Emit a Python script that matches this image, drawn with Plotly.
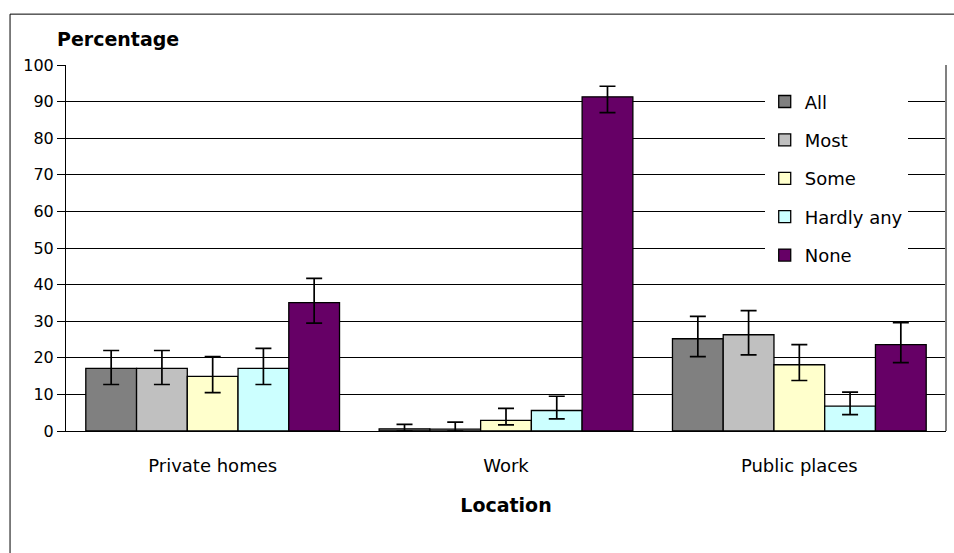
import plotly.graph_objects as go

categories = ["Private homes", "Work", "Public places"]
series_names = ["All", "Most", "Some", "Hardly any", "None"]
series_colors = ["#808080", "#C0C0C0", "#FFFFCC", "#CCFFFF", "#660066"]

# values per series, one per location
all_vals = [17.1, 0.6, 25.2]
most_vals = [17.1, 0.5, 26.3]
some_vals = [14.9, 2.9, 18.1]
hardly_vals = [17.1, 5.6, 6.8]
none_vals = [35.1, 91.3, 23.6]

# upper / lower error bar ends
all_upper = [22.0, 1.8, 31.3]
all_lower = [12.7, 0.0, 20.3]
most_upper = [22.0, 2.4, 32.9]
most_lower = [12.7, 0.0, 20.8]
some_upper = [20.3, 6.2, 23.6]
some_lower = [10.5, 1.7, 13.8]
hardly_upper = [22.6, 9.5, 10.6]
hardly_lower = [12.7, 3.3, 4.5]
none_upper = [41.7, 94.2, 29.6]
none_lower = [29.5, 87.0, 18.7]

y_ticks = list(range(0, 101, 10))

series = [
    (all_vals, all_upper, all_lower),
    (most_vals, most_upper, most_lower),
    (some_vals, some_upper, some_lower),
    (hardly_vals, hardly_upper, hardly_lower),
    (none_vals, none_upper, none_lower),
]

FONT = "DejaVu Sans"

fig = go.Figure()
for i, (name, color, (vals, up, lo)) in enumerate(zip(series_names, series_colors, series)):
    fig.add_trace(go.Bar(
        name=name,
        x=categories,
        y=vals,
        legendgroup=name,
        marker=dict(color=color, line=dict(color="black", width=1.3)),
        error_y=dict(
            type="data",
            symmetric=False,
            array=[u - v for u, v in zip(up, vals)],
            arrayminus=[v - l for v, l in zip(vals, lo)],
            color="black",
            thickness=1.7,
            width=8,
        ),
    ))

fig.update_layout(
    width=954,
    height=553,
    margin=dict(l=66, r=8, t=65, b=122),
    paper_bgcolor="white",
    plot_bgcolor="white",
    barmode="group",
    bargap=0.135,
    bargroupgap=0,
    font=dict(family=FONT, color="black", size=16),
    legend=dict(
        x=0.794, y=0.95, xanchor="left", yanchor="top",
        bgcolor="white",
        font=dict(family=FONT, size=18, color="black"),
        tracegroupgap=12,
        itemwidth=30,
        itemclick=False,
    ),
    showlegend=True,
)

fig.update_yaxes(
    range=[0, 100],
    tickvals=y_ticks,
    ticktext=[str(t) for t in y_ticks],
    showgrid=True,
    gridcolor="black",
    gridwidth=1,
    showline=True,
    linecolor="black",
    linewidth=1,
    ticks="outside",
    ticklen=8,
    tickcolor="black",
    tickfont=dict(family=FONT, size=16),
    zeroline=False,
)

fig.update_xaxes(
    showline=True,
    linecolor="black",
    linewidth=1,
    ticks="",
    ticklabelstandoff=18,
    tickfont=dict(family=FONT, size=18),
    title=dict(text="<b>Location</b>", font=dict(family=FONT, size=19), standoff=24),
)

fig.add_annotation(
    text="<b>Percentage</b>",
    xref="paper", yref="paper",
    x=-0.012, y=1.071,
    xanchor="left", yanchor="middle",
    showarrow=False,
    font=dict(family=FONT, size=19, color="black"),
)

# outer chart border (left and top visible)
fig.add_shape(type="rect", xref="paper", yref="paper",
              x0=-0.0636, x1=1.2, y0=-0.6, y1=1.139,
              line=dict(color="black", width=1), fillcolor="rgba(0,0,0,0)", layer="below")
# grey right edge of plot area
fig.add_shape(type="line", xref="paper", yref="paper",
              x0=1.0, x1=1.0, y0=0, y1=1,
              line=dict(color="#808080", width=2))

fig.write_html("out.html", config={"displayModeBar": False},
               post_script="document.body.style.margin='0';")
